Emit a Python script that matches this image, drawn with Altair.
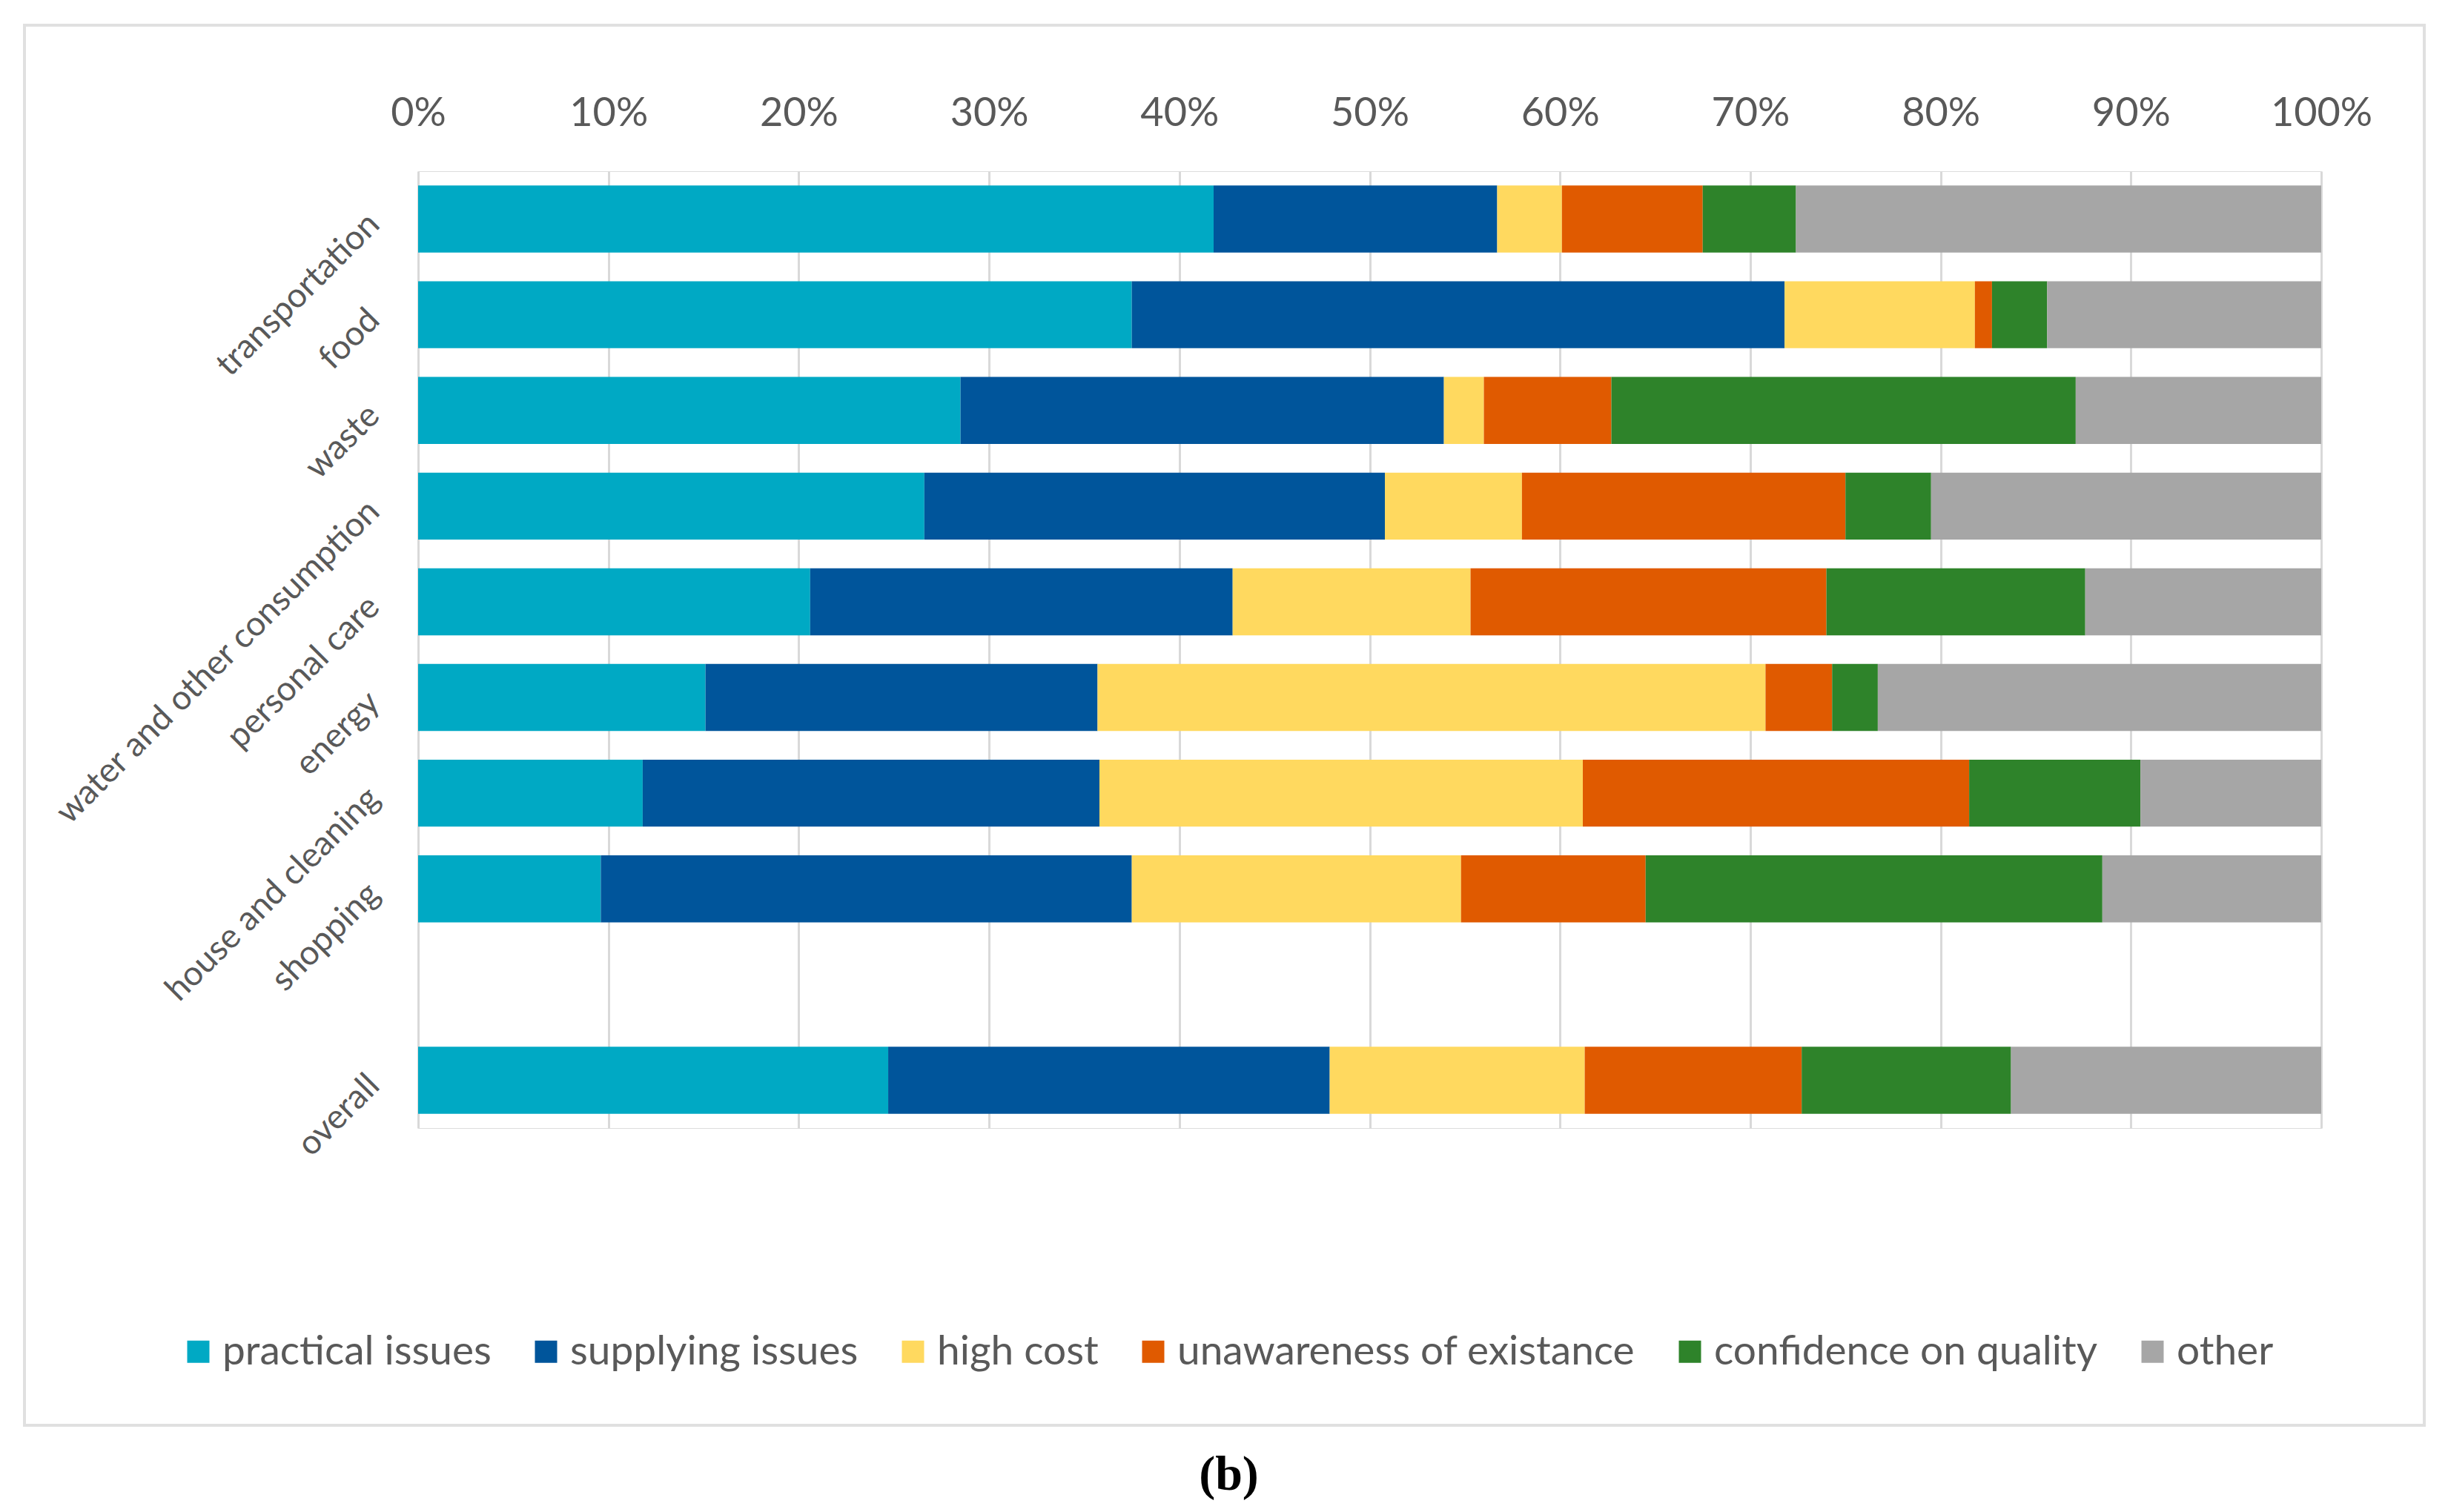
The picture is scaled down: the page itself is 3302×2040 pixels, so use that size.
import altair as alt
import pandas as pd

# y categories (the blank one is the empty row before "overall")
categories = ["transportation", "food", "waste", "water and other consumption",
              "personal care", "energy", "house and cleaning", "shopping", " ", "overall"]
rows = ["transportation", "food", "waste", "water and other consumption",
        "personal care", "energy", "house and cleaning", "shopping", "overall"]

series = ["practical issues", "supplying issues", "high cost",
          "unawareness of existance", "confidence on quality", "other"]
colors = ["#00A9C4", "#00559B", "#FFD95F", "#E05A00", "#2E832A", "#A6A6A6"]

# percentages per row (same order as rows)
practical = [41.8, 37.5, 28.5, 26.6, 20.6, 15.1, 11.8, 9.6, 24.7]
supplying = [14.9, 34.3, 25.4, 24.2, 22.2, 20.6, 24.0, 27.9, 23.2]
high_cost = [3.4, 10.0, 2.1, 7.2, 12.5, 35.1, 25.4, 17.3, 13.4]
unaware = [7.4, 0.9, 6.7, 17.0, 18.7, 3.5, 20.3, 9.7, 11.4]
confidence = [4.9, 2.9, 24.4, 4.5, 13.6, 2.4, 9.0, 24.0, 11.0]
other = [27.6, 14.4, 12.9, 20.5, 12.4, 23.3, 9.5, 11.5, 16.3]

tick_values = [0, 0.1, 0.2, 0.3, 0.4, 0.5, 0.6, 0.7, 0.8, 0.9, 1.0]

values_by_series = [practical, supplying, high_cost, unaware, confidence, other]
records = []
for si, (name, vals) in enumerate(zip(series, values_by_series)):
    for cat, v in zip(rows, vals):
        records.append({"category": cat, "series": name, "share": v / 100.0, "idx": si})
df = pd.DataFrame(records)

TXT = "#595959"
FONT = "Lato"

bars = alt.Chart(df).mark_bar().encode(
    x=alt.X("share:Q", stack="zero",
            scale=alt.Scale(domain=[0, 1], nice=False),
            axis=alt.Axis(orient="top", format=".0%", values=tick_values, grid=True,
                          gridColor="#d9d9d9", gridWidth=3, domain=False, ticks=False,
                          tickSize=0, labelPadding=51, labelFontSize=54, labelColor=TXT,
                          labelFont=FONT, labelFlush=False, labelOverlap=False, title=None)),
    y=alt.Y("category:N", sort=categories,
            scale=alt.Scale(domain=categories, paddingInner=0.3, paddingOuter=0.15),
            axis=alt.Axis(title=None, domain=False, ticks=False, tickSize=0,
                          labelAngle=315, labelAlign="right", labelBaseline="middle",
                          labelFontSize=46, labelColor=TXT, labelFont=FONT,
                          labelPadding=60, labelLimit=2000)),
    color=alt.Color("series:N", scale=alt.Scale(domain=series, range=colors),
                    legend=alt.Legend(orient="none", legendX=-324, legendY=1565,
                                      direction="horizontal", title=None,
                                      symbolType="square", symbolSize=900,
                                      symbolStrokeWidth=0, labelFontSize=55,
                                      labelFont=FONT, labelColor=TXT, labelOffset=5,
                                      columnPadding=46, labelLimit=2000)),
    order=alt.Order("idx:Q"),
)

border = alt.Chart(pd.DataFrame({"f": [0]})).mark_rect(
    filled=False, stroke="#e0e0e0", strokeWidth=4
).encode(x=alt.value(-531), x2=alt.value(2706), y=alt.value(-197), y2=alt.value(1692))

chart = alt.layer(border, bars).properties(
    width=2567,
    height=1291,
    autosize=alt.AutoSizeParams(type="none"),
    padding={"left": 556, "top": 223, "right": 163, "bottom": 510},
    title=alt.TitleParams("(b)", orient="bottom", anchor="middle", frame="group",
                          dx=-190, offset=33, font="Liberation Serif", fontSize=66,
                          fontWeight="bold", color="black"),
).configure_view(stroke=None).configure(background="white")

chart.save("out.html", embed_options={"renderer": "svg", "actions": False})
